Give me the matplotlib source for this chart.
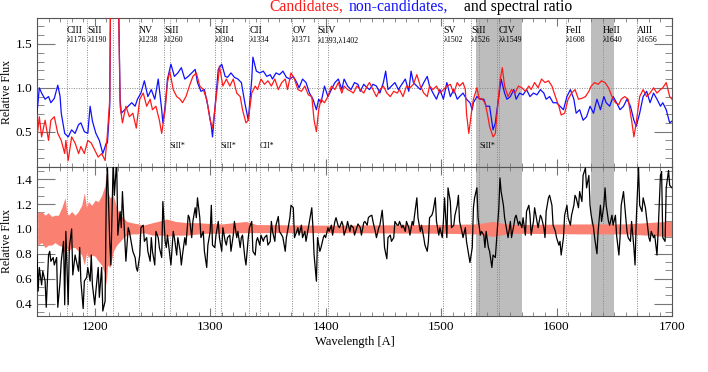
import numpy as np
import matplotlib
matplotlib.use("Agg")
import matplotlib.pyplot as plt
from matplotlib.ticker import MultipleLocator

plt.rcParams['font.family'] = ['Liberation Serif', 'DejaVu Serif']

# ---------------- data ----------------
blue_wave = [1150,1152,1154,1157,1160,1162,1165,1168,1170,1171,1174,1177,1180,1183,1186,1188,1191,1194,1196,1198,
             1201,1204,1207,1210,1211,1213,1214,1220,1222,1223,1226,1229,1232,1235,1237,1240,1243,1246,1249,1252,
             1255,1258,1259,1261,1263,1266,1269,1272,1275,1278,1281,1284,1287,1289,1292,1295,1298,1301,1302,1304,
             1307,1310,1313,1315,1318,1321,1324,1327,1330,1333,1336,1337,1340,1343,1346,1349,1352,1354,1357,1360,
             1363,1366,1369,1372,1375,1377,1380,1383,1386,1389,1392,1394,1396,1399,1402,1405,1408,1411,1414,1416,
             1419,1422,1425,1428,1430,1433,1436,1438,1441,1444,1447,1450,1452,1454,1457,1460,1463,1466,1469,1472,
             1474,1476,1479,1482,1485,1488,1490,1493,1496,1499,1502,1505,1508,1511,1514,1516,1519,1522,1525,1527,
             1528,1531,1534,1537,1539,1542,1545,1547,1548,1550,1552,1555,1557,1560,1563,1565,1568,1571,1574,1577,
             1580,1583,1586,1589,1591,1594,1597,1600,1603,1606,1609,1612,1615,1617,1620,1623,1626,1629,1632,1635,
             1638,1641,1643,1646,1649,1652,1655,1658,1661,1664,1667,1669,1672,1675,1678,1681,1684,1687,1690,1692,
             1695,1698,1700]
blue_flux = [0.71,1.00,0.94,0.87,0.90,0.83,0.88,1.03,0.90,0.71,0.48,0.44,0.52,0.48,0.58,0.60,0.50,0.48,0.79,0.62,
             0.48,0.40,0.25,0.37,0.37,0.79,2.50,2.50,0.87,0.71,0.75,0.79,0.83,0.79,0.87,0.94,1.08,0.90,0.98,0.87,
             1.10,0.75,0.60,0.79,1.10,1.27,1.13,1.17,1.23,1.10,1.13,1.17,1.21,1.06,0.96,0.98,0.79,0.56,0.44,0.75,
             1.21,1.27,1.13,1.12,1.17,1.12,1.10,1.06,0.83,0.63,1.10,1.35,1.19,1.17,1.19,1.13,1.15,1.10,1.17,1.15,
             1.19,1.12,1.10,1.13,1.06,1.00,1.10,1.06,0.94,0.87,0.75,0.87,0.83,1.02,0.90,0.98,1.06,1.10,0.98,1.10,
             1.02,0.98,1.06,1.04,0.96,1.04,1.00,0.98,1.04,1.02,0.94,1.06,1.19,0.98,1.02,1.06,0.98,1.04,1.10,0.96,
             1.19,1.06,1.02,0.98,1.06,1.13,1.02,0.94,0.87,0.98,0.87,1.06,0.90,0.98,0.87,0.90,0.94,0.87,0.83,0.75,
             0.83,0.90,0.87,0.87,0.79,0.79,0.52,0.60,0.71,0.90,1.10,0.94,0.87,0.90,0.98,0.87,0.94,0.92,0.98,0.90,
             0.94,0.92,0.98,0.94,0.87,0.90,0.83,0.83,0.79,0.75,0.90,0.98,0.87,0.71,0.75,0.63,0.67,0.79,0.71,0.87,
             0.75,0.90,0.83,0.79,0.90,0.83,0.75,0.79,0.87,0.79,0.63,0.56,0.71,0.90,0.96,0.83,0.94,0.87,0.79,0.83,
             0.75,0.60,0.62]

red_wave = [1150,1152,1154,1157,1160,1162,1165,1168,1171,1174,1175,1177,1180,1183,1186,1188,1191,1194,1197,1200,
            1203,1206,1209,1211,1213,1214,1220,1222,1224,1227,1230,1233,1236,1239,1242,1245,1248,1250,1253,1256,
            1258,1261,1263,1265,1268,1271,1274,1276,1279,1282,1285,1288,1291,1294,1297,1300,1302,1304,1307,1308,
            1311,1314,1317,1320,1323,1326,1328,1331,1333,1336,1339,1341,1344,1347,1350,1353,1356,1359,1362,1365,
            1367,1370,1373,1376,1379,1382,1385,1388,1390,1392,1394,1396,1399,1402,1405,1408,1411,1414,1416,1419,
            1422,1424,1427,1430,1433,1436,1438,1441,1444,1447,1450,1453,1456,1459,1462,1464,1467,1470,1473,1476,
            1479,1482,1485,1488,1490,1493,1496,1499,1502,1505,1508,1511,1514,1516,1519,1521,1522,1524,1527,1528,
            1531,1533,1535,1538,1540,1542,1545,1547,1549,1551,1553,1555,1558,1561,1564,1567,1570,1573,1576,1578,
            1581,1584,1587,1590,1593,1596,1599,1602,1604,1607,1610,1613,1616,1619,1622,1625,1628,1630,1633,1636,
            1639,1642,1645,1648,1651,1654,1656,1659,1662,1665,1667,1669,1672,1675,1678,1681,1684,1687,1690,1692,
            1695,1698,1700]
red_flux = [0.44,0.67,0.44,0.63,0.40,0.63,0.67,0.48,0.40,0.25,0.40,0.17,0.44,0.37,0.25,0.33,0.25,0.40,0.37,0.29,
            0.21,0.25,0.17,0.48,0.87,2.50,2.50,0.79,0.60,0.79,0.67,0.71,0.54,0.87,0.94,0.79,0.87,0.75,0.79,0.63,
            0.48,0.75,1.06,1.19,0.98,0.90,0.87,0.83,0.90,1.02,1.13,1.17,1.02,0.98,0.87,0.63,0.54,0.75,1.10,1.25,
            1.02,1.10,1.02,1.10,0.94,0.90,0.75,0.60,0.63,0.94,1.02,0.98,1.10,1.04,1.08,1.02,1.10,0.98,1.06,1.10,
            0.98,1.17,1.10,0.98,0.96,1.02,0.92,0.90,0.63,0.50,0.75,0.87,0.83,0.90,1.02,0.98,1.06,0.94,1.02,0.98,
            0.96,0.94,1.02,0.98,0.94,1.02,1.06,0.98,0.90,0.98,1.02,0.94,0.90,0.96,0.94,0.98,0.90,1.02,1.00,1.04,
            1.15,1.02,0.94,0.90,1.02,0.98,1.02,0.94,0.98,1.02,1.04,0.94,1.06,1.02,1.06,0.98,0.71,0.48,0.79,0.87,
            1.00,0.87,0.88,0.83,0.71,0.56,0.44,0.48,0.79,1.08,1.23,1.02,0.90,0.98,0.94,1.02,1.00,0.96,1.02,0.98,
            1.06,1.00,1.10,1.06,1.08,1.02,0.90,0.79,0.69,0.71,0.87,0.94,0.98,0.87,0.88,0.90,0.96,1.02,1.06,1.04,
            1.08,1.06,1.00,0.90,0.83,0.81,0.87,0.90,0.87,0.63,0.44,0.60,0.90,0.98,0.90,0.94,1.00,0.94,0.98,1.00,
            1.06,0.90,0.87]

ratio_wave = [1150,1151,1152,1154,1155,1157,1158,1160,1161,1162,1164,1165,1167,1168,1170,1171,1173,1174,1175,1177,
              1178,1180,1181,1183,1186,1187,1188,1190,1191,1193,1194,1196,1197,1198,1200,1201,1203,1204,1206,1207,
              1209,1210,1211,1213,1214,1216,1217,1219,1220,1222,1223,1224,1226,1227,1229,1230,1232,1233,1235,1236,
              1237,1239,1240,1242,1243,1245,1246,1248,1249,1250,1252,1253,1255,1256,1258,1259,1261,1262,1263,1265,
              1266,1268,1269,1271,1272,1274,1275,1276,1278,1279,1281,1282,1284,1285,1287,1288,1289,1291,1292,1294,
              1295,1297,1298,1300,1301,1302,1304,1305,1307,1308,1310,1311,1313,1314,1315,1317,1318,1320,1321,1323,
              1324,1326,1327,1328,1330,1331,1333,1334,1336,1337,1339,1340,1341,1343,1344,1346,1347,1349,1350,1352,
              1353,1354,1356,1357,1359,1360,1362,1363,1365,1366,1367,1369,1370,1372,1373,1375,1376,1377,1379,1380,
              1382,1383,1385,1386,1388,1389,1390,1392,1393,1395,1396,1398,1399,1400,1402,1403,1405,1406,1408,1409,
              1411,1412,1414,1415,1416,1418,1419,1421,1422,1424,1425,1427,1428,1430,1431,1433,1434,1436,1437,1438,
              1440,1441,1443,1444,1446,1447,1449,1450,1451,1453,1454,1456,1457,1459,1460,1462,1463,1464,1466,1467,
              1469,1470,1472,1473,1475,1476,1477,1479,1480,1482,1483,1485,1486,1488,1489,1490,1492,1493,1495,1496,
              1498,1499,1501,1502,1503,1505,1506,1508,1509,1511,1512,1514,1515,1516,1518,1519,1521,1522,1524,1525,
              1527,1528,1529,1531,1532,1534,1535,1537,1538,1539,1541,1542,1544,1545,1547,1548,1550,1551,1552,1554,
              1555,1557,1558,1560,1561,1563,1564,1565,1567,1568,1570,1571,1573,1574,1576,1577,1578,1580,1581,1583,
              1584,1586,1587,1589,1590,1591,1593,1594,1596,1597,1599,1600,1602,1603,1604,1606,1607,1609,1610,1612,
              1613,1615,1616,1617,1619,1620,1622,1623,1625,1626,1628,1629,1630,1632,1633,1635,1636,1638,1639,1641,
              1642,1643,1645,1646,1648,1649,1651,1652,1654,1655,1656,1658,1659,1661,1662,1664,1665,1667,1668,1669,
              1671,1672,1674,1675,1677,1678,1680,1681,1682,1684,1685,1687,1688,1690,1691,1692,1694,1695,1697,1698,
              1700]
ratio_flux = [0.79,0.50,0.69,0.55,0.66,0.58,0.37,0.79,0.82,0.74,0.77,0.71,0.77,0.37,0.58,0.74,0.90,0.39,0.98,0.39,
              0.85,1.00,0.63,0.79,0.66,0.85,0.58,0.36,0.58,0.61,0.69,0.58,0.79,0.55,0.39,0.50,0.69,0.45,0.69,0.34,
              0.42,1.27,1.50,0.90,0.71,1.55,1.27,1.55,0.95,1.14,1.01,1.30,0.93,0.74,1.01,0.98,0.87,0.82,0.77,0.69,
              0.66,0.79,1.01,1.03,0.90,0.93,0.82,0.74,0.93,0.82,0.71,0.98,0.93,0.85,0.77,1.22,0.90,0.85,0.95,0.79,
              0.71,0.98,0.93,0.79,0.93,0.82,0.71,0.79,0.93,0.87,1.11,1.09,0.93,1.06,1.17,1.09,1.25,1.09,0.93,0.98,
              0.82,0.69,0.87,0.98,1.19,0.87,0.85,0.95,1.06,0.93,0.82,1.01,0.90,0.87,0.93,0.95,0.82,0.95,1.06,0.93,
              0.98,0.85,0.93,0.95,0.77,0.71,0.93,1.01,1.06,0.82,0.79,0.90,0.93,0.87,0.95,0.90,0.93,0.95,0.87,0.90,
              1.06,0.98,0.90,1.03,1.10,0.98,0.95,0.93,0.82,0.93,0.98,1.09,1.19,1.17,0.93,0.98,1.01,0.95,1.03,0.93,
              0.98,0.90,1.01,1.06,1.17,1.01,0.79,0.58,0.93,0.82,0.85,0.93,0.95,0.93,1.01,0.98,1.03,0.95,1.06,1.09,
              1.02,1.01,1.06,1.03,0.95,1.01,1.06,0.98,1.03,1.01,0.95,1.01,1.04,1.01,0.95,1.05,1.06,1.03,1.09,1.10,
              1.11,1.06,0.98,0.93,1.01,1.03,1.15,1.03,0.85,0.76,0.93,0.95,0.90,0.93,1.06,1.03,1.03,1.06,1.01,1.03,
              0.98,1.06,1.01,0.95,1.06,1.03,1.11,1.25,1.09,0.98,1.03,0.93,0.87,0.82,0.90,1.09,1.11,1.14,1.25,1.06,
              0.95,1.01,0.93,1.06,1.25,0.93,1.33,1.22,1.01,1.03,1.11,1.19,1.27,1.06,0.98,0.93,1.01,0.90,0.79,0.73,
              0.85,1.17,1.25,1.33,1.09,0.95,0.98,0.95,0.85,0.98,0.85,0.82,0.69,0.79,0.77,0.90,1.17,1.41,1.30,1.19,
              1.09,0.98,0.93,1.06,0.93,1.03,1.09,1.11,1.03,1.06,1.01,1.09,0.95,1.14,1.19,1.11,0.95,1.06,1.17,1.06,
              1.01,1.11,1.09,1.01,0.93,1.14,1.25,1.27,1.19,1.03,0.98,0.93,0.87,0.90,0.79,0.93,1.11,1.19,1.09,1.03,
              1.11,1.19,1.27,1.25,1.17,1.30,1.22,1.43,1.49,1.33,1.43,1.19,1.11,1.01,0.93,0.80,0.98,1.19,1.06,1.19,
              1.33,1.19,1.06,1.03,1.11,1.03,1.11,0.95,0.79,0.93,1.19,1.30,1.19,0.98,0.93,0.90,1.06,0.85,0.71,1.06,
              1.50,1.19,1.14,1.25,1.17,1.09,0.93,0.90,0.98,0.93,0.95,0.79,0.98,1.43,1.46,0.93,0.90,1.33,1.47,1.35,
              1.33]

band_wave = [1150.6,1154.1,1157,1159.8,1162.7,1165.6,1168.5,1171.4,1174.3,1175.7,1177.2,1180,1183,1185.8,1188.7,
             1191,1193,1194.5,1197.4,1200.3,1203.2,1206,1208.9,1209.8,1211.2,1213.3,1216.1,1219,1221.9,1224.8,
             1227.7,1232,1237.8,1242.1,1250,1259,1262,1270,1280,1290,1297,1310,1331,1340,1400,1500,1530,1545,
             1560,1620,1660,1695,1700]
band_upper = [1.13,1.14,1.11,1.13,1.10,1.11,1.11,1.17,1.25,1.14,1.11,1.14,1.11,1.14,1.19,
              1.29,1.17,1.22,1.19,1.23,1.22,1.27,1.35,1.46,1.30,1.25,1.27,1.17,1.11,1.09,
              1.06,1.05,1.04,1.03,1.05,1.07,1.08,1.06,1.05,1.05,1.045,1.04,1.06,1.035,1.03,1.035,1.04,1.06,
              1.035,1.04,1.04,1.06,1.06]
band_lower = [0.87,0.89,0.85,0.87,0.87,0.89,0.87,0.86,0.79,0.85,0.82,0.85,0.85,0.82,0.79,
              0.71,0.81,0.77,0.79,0.78,0.74,0.71,0.63,0.55,0.71,0.69,0.82,0.87,0.90,0.93,
              0.95,0.96,0.96,0.97,0.95,0.95,0.94,0.95,0.95,0.96,0.965,0.965,0.97,0.97,0.97,0.965,0.96,0.94,
              0.965,0.96,0.96,0.94,0.94]

# spectral line markers
line_waves = [1176,1193,1216,1238,1260,1265,1304,1309,1334,1343,1371,1393,1402,
              1502,1526,1533,1548,1550,1608,1640,1670]
label_names = ['CIII','SiII','NV','SiII','SiII','CII','OV','SiIV','SV','SiII','CIV','FeII','HeII','AlII']
label_name_x = [1176,1194,1238,1260,1304,1334,1371,1393,1502,1526,1550,1608,1640,1670]
label_wl = ['λ1176','λ1190','λ1238','λ1260','λ1304','λ1334','λ1371','λ1393,λ1402','λ1502','λ1526',
            'λλ1549','λ1608','λ1640','λ1656']
label_wl_x = [1176,1194,1238,1260,1304,1334,1371,1393,1502,1526,1550,1608,1640,1670]
star_names = ['SiII*','SiII*','CII*','SiII*']
star_x = [1265,1309,1343,1533]
shade_regions = [(1530,1570),(1630,1650)]

# ---------------- figure ----------------
W, H = 708, 372
fig = plt.figure(figsize=(W/100, H/100), dpi=100)
left = 37/W; width = 635/W
ax1 = fig.add_axes([left, 1-166.7/H, width, 149/H])
ax2 = fig.add_axes([left, 1-316/H, width, 149.3/H])

for ax in (ax1, ax2):
    ax.set_xlim(1150, 1700)
    for lo, hi in shade_regions:
        ax.axvspan(lo, hi, color='#bdbdbd', lw=0, zorder=0)
    for lw_ in line_waves:
        ax.axvline(lw_, color='#888888', ls=(0, (1, 1.5)), lw=0.7, zorder=1)
    ax.xaxis.set_major_locator(MultipleLocator(100))
    ax.xaxis.set_minor_locator(MultipleLocator(10))
    ax.tick_params(which='both', direction='in', top=True, right=True, colors='#777777',
                   labelcolor='black', labelsize=9.5)
    ax.tick_params(axis='y', which='major', length=13, width=0.8)
    ax.tick_params(axis='y', which='minor', length=5, width=0.6)
    ax.tick_params(axis='x', which='major', length=6, width=0.8)
    ax.tick_params(axis='x', which='minor', length=3, width=0.6)
    for s in ax.spines.values():
        s.set_color('#555555'); s.set_linewidth(0.8)
    ax.set_ylabel('Relative Flux', fontsize=8.5)
    ax.yaxis.set_label_coords(-0.038, 0.5)

# top panel
ax1.set_ylim(0.1, 1.8)
ax1.yaxis.set_major_locator(MultipleLocator(0.5))
ax1.yaxis.set_minor_locator(MultipleLocator(0.1))
ax1.axhline(1.0, color='#888888', ls=(0, (1, 1.5)), lw=0.7, zorder=1)
ax1.plot(blue_wave, blue_flux, color='#1010ff', lw=0.9, zorder=3)
ax1.plot(red_wave, red_flux, color='#ff1a1a', lw=0.9, zorder=3)
ax1.tick_params(axis='x', labelbottom=False)
for name, x in zip(label_names, label_name_x):
    ax1.text(x, 1.65, name, fontsize=7, ha='left', va='center', zorder=5)
for wl, x in zip(label_wl, label_wl_x):
    ax1.text(x, 1.54, wl, fontsize=5.7, ha='left', va='center', zorder=5)
for name, x in zip(star_names, star_x):
    ax1.text(x, 0.34, name, fontsize=5.7, ha='left', va='center', zorder=5)

# bottom panel
ax2.set_ylim(0.3, 1.5)
ax2.yaxis.set_major_locator(MultipleLocator(0.2))
ax2.yaxis.set_minor_locator(MultipleLocator(0.2/3))
ax2.fill_between(band_wave, band_lower, band_upper, color='#fa8072', lw=0, zorder=2)
ax2.plot(ratio_wave, ratio_flux, color='black', lw=0.9, zorder=3)
ax2.set_xlabel('Wavelength [A]', fontsize=9, labelpad=2)

# title in three colours
ty = 1 - 11/H
fig.text(269/W, ty, 'Candidates,', color='#ff1a1a', fontsize=11.3, va='baseline', ha='left')
fig.text(349/W, ty, 'non-candidates,', color='#1010ff', fontsize=11.3, va='baseline', ha='left')
fig.text(464/W, ty, 'and spectral ratio', color='black', fontsize=11.3, va='baseline', ha='left')

fig.savefig('out.png', dpi=100)
